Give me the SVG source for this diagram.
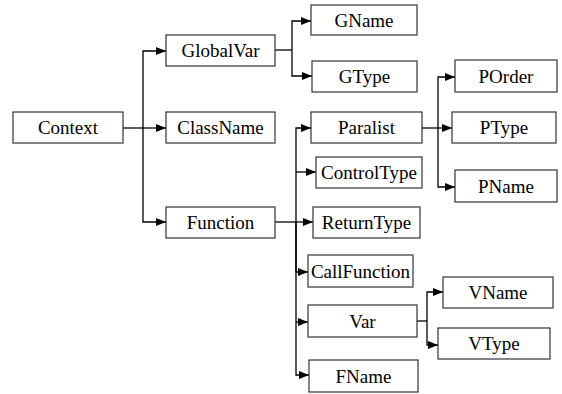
<svg xmlns="http://www.w3.org/2000/svg" width="562" height="394" viewBox="0 0 562 394">
<defs>
<marker id="ah" markerWidth="10" markerHeight="8" refX="10" refY="4" orient="auto" markerUnits="userSpaceOnUse">
<path d="M0,0 L10,4 L0,8 Z" fill="#000"/>
</marker>
<style>
.n rect{fill:#fff;stroke:#333;stroke-width:1.2}
.n text{font-size:19px;fill:#000;text-anchor:middle}
.c path{fill:none;stroke:#000;stroke-width:1.3}
.a{marker-end:url(#ah)}
</style>
</defs>
<rect width="562" height="394" fill="#fff"/>
<g class="c">
<path d="M123,128 H143"/>
<path class="a" d="M143,128 V51 H166"/>
<path class="a" d="M143,128 H166"/>
<path class="a" d="M143,128 V222 H166"/>
<path d="M275,50 H292"/>
<path class="a" d="M292,50 V21 H311"/>
<path class="a" d="M292,50 V76 H312"/>
<path d="M275,222 H296"/>
<path class="a" d="M296,222 V128 H311"/>
<path class="a" d="M296,172 H316"/>
<path class="a" d="M296,222 H313"/>
<path class="a" d="M296,222 V272 H308"/>
<path class="a" d="M296,322 H308"/>
<path class="a" d="M296,222 V375 H309"/>
<path d="M422,128 H438"/>
<path class="a" d="M438,128 V77 H455"/>
<path class="a" d="M438,128 H452"/>
<path class="a" d="M438,128 V187 H455"/>
<path d="M417,321 H427"/>
<path class="a" d="M427,321 V292 H443"/>
<path class="a" d="M427,321 V345 H438"/>
</g>
<g font-family="Liberation Serif, Times New Roman, serif">
<g id="Context" class="n"><rect x="13" y="112" width="110" height="31"/><text x="68" y="134">Context</text></g>
<g id="GlobalVar" class="n"><rect x="166" y="35" width="109" height="31"/><text x="220.5" y="57">GlobalVar</text></g>
<g id="ClassName" class="n"><rect x="166" y="112" width="109" height="31"/><text x="220.5" y="134">ClassName</text></g>
<g id="Function" class="n"><rect x="166" y="207" width="109" height="31"/><text x="220.5" y="229">Function</text></g>
<g id="GName" class="n"><rect x="311" y="5" width="106" height="30"/><text x="364" y="27">GName</text></g>
<g id="GType" class="n"><rect x="312" y="61" width="105" height="31"/><text x="364.5" y="83">GType</text></g>
<g id="Paralist" class="n"><rect x="311" y="112" width="111" height="31"/><text x="366.5" y="134">Paralist</text></g>
<g id="ControlType" class="n"><rect x="316" y="157" width="106" height="31"/><text x="369" y="179">ControlType</text></g>
<g id="ReturnType" class="n"><rect x="313" y="207" width="107" height="31"/><text x="366.5" y="229">ReturnType</text></g>
<g id="CallFunction" class="n"><rect x="308" y="255" width="105" height="32"/><text x="360.5" y="278">CallFunction</text></g>
<g id="Var" class="n"><rect x="308" y="305" width="109" height="32"/><text x="362.5" y="328">Var</text></g>
<g id="FName" class="n"><rect x="309" y="360" width="109" height="32"/><text x="363.5" y="383">FName</text></g>
<g id="POrder" class="n"><rect x="455" y="60" width="102" height="32"/><text x="506" y="83">POrder</text></g>
<g id="PType" class="n"><rect x="452" y="112" width="104" height="31"/><text x="504" y="134">PType</text></g>
<g id="PName" class="n"><rect x="455" y="170" width="102" height="32"/><text x="506" y="193">PName</text></g>
<g id="VName" class="n"><rect x="443" y="277" width="110" height="31"/><text x="498" y="299">VName</text></g>
<g id="VType" class="n"><rect x="438" y="328" width="112" height="31"/><text x="494" y="350">VType</text></g>
</g>
</svg>
